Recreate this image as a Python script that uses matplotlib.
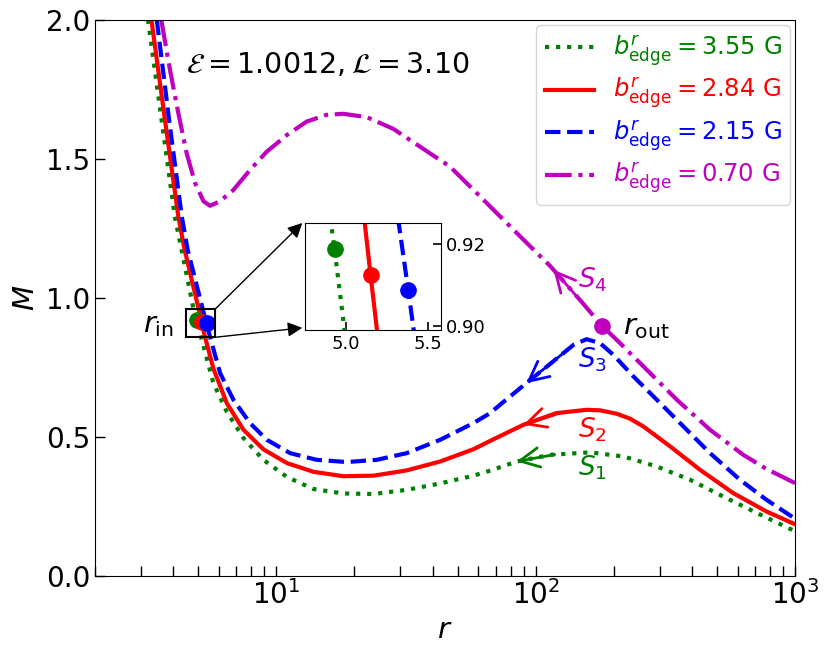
import numpy as np
import matplotlib
matplotlib.use('Agg')
import matplotlib.pyplot as plt
from matplotlib.patches import Rectangle

# curves: r and M
r1 = [3.20, 3.61, 4.06, 4.31, 4.80, 4.93, 5.05, 5.24, 5.72, 6.44, 7.47, 8.91, 11.0, 13.9, 18.1, 23.7,
      31.8, 42.8, 57.5, 66.7, 84.5, 114, 162, 218, 293, 394, 528, 711, 1000]
m1 = [2.0, 1.640, 1.292, 1.173, 0.957, 0.9186, 0.880, 0.825, 0.693, 0.590, 0.495, 0.417, 0.355, 0.312, 0.296, 0.294,
      0.309, 0.332, 0.360, 0.378, 0.411, 0.435, 0.444, 0.429, 0.393, 0.345, 0.285, 0.226, 0.160]

r2 = [3.30, 3.72, 4.19, 4.43, 5.03, 5.15, 5.28, 5.72, 6.44, 7.47, 8.91, 11.0, 13.9, 18.1, 23.7, 31.8,
      42.8, 57.5, 66.7, 89.6, 120, 157, 177, 205, 231, 260, 330, 430, 578, 776, 1000]
m2 = [2.0, 1.640, 1.292, 1.173, 0.955, 0.9123, 0.868, 0.745, 0.621, 0.525, 0.455, 0.405, 0.374, 0.358, 0.360, 0.379,
      0.411, 0.455, 0.485, 0.543, 0.585, 0.597, 0.595, 0.583, 0.565, 0.537, 0.465, 0.381, 0.297, 0.231, 0.185]

r3 = [3.46, 3.86, 4.32, 4.55, 5.25, 5.38, 5.52, 6.07, 6.83, 7.92, 9.19, 11.3, 14.3, 18.7, 24.4, 31.8,
      42.8, 57.5, 66.7, 72.8, 92, 120, 140, 157, 177, 199, 238, 293, 371, 470, 613, 776, 1000]
m3 = [2.0, 1.640, 1.292, 1.173, 0.945, 0.9086, 0.868, 0.729, 0.633, 0.549, 0.489, 0.441, 0.417, 0.409, 0.417, 0.441,
      0.489, 0.549, 0.585, 0.615, 0.693, 0.780, 0.831, 0.851, 0.837, 0.795, 0.717, 0.633, 0.537, 0.441, 0.345, 0.273, 0.205]

r4 = [3.60, 3.89, 4.19, 4.51, 4.86, 5.24, 5.55, 6.06, 6.83, 7.92, 9.19, 11.0, 13.1, 15.6, 18.1, 22.3,
      28.2, 32.7, 46.7, 62.8, 84.5, 114, 152, 180, 205, 268, 350, 470, 631, 776, 1000]
m4 = [2.0, 1.820, 1.664, 1.520, 1.413, 1.347, 1.331, 1.347, 1.388, 1.460, 1.526, 1.586, 1.634, 1.658, 1.662, 1.650,
      1.608, 1.568, 1.472, 1.353, 1.233, 1.113, 0.980, 0.899, 0.849, 0.741, 0.633, 0.525, 0.435, 0.384, 0.333]

labels = [r'$b^r_{\rm edge}=3.55$ G', r'$b^r_{\rm edge}=2.84$ G',
          r'$b^r_{\rm edge}=2.15$ G', r'$b^r_{\rm edge}=0.70$ G']
colors = ['g', 'r', 'b', 'm']
styles = [':', '-', '--', '-.']
snames = [r'$S_1$', r'$S_2$', r'$S_3$', r'$S_4$']

# inner sonic points and outer sonic point
rin_r = [4.93, 5.15, 5.38]
rin_m = [0.9186, 0.9123, 0.9086]
rout_r = 180
rout_m = 0.899

# where the direction arrows sit on each curve
arrow_r = [84.5, 89.6, 92, 117]

curves = [(r1, m1), (r2, m2), (r3, m3), (r4, m4)]

fig = plt.figure(figsize=(8.3, 6.61), dpi=100)
ax = fig.add_axes([0.1145, 0.129, 0.8435, 0.841])

for (rr, mm), c, ls, lab in zip(curves, colors, styles, labels):
    ax.plot(rr, mm, color=c, ls=ls, lw=3, label=lab)

for i in range(3):
    ax.plot(rin_r[i], rin_m[i], 'o', color=colors[i], ms=11, zorder=5)
ax.plot(rout_r, rout_m, 'o', color='m', ms=11, zorder=5)

# arrows along the curves (pointing to smaller r)
for (rr, mm), c, ra in zip(curves, colors, arrow_r):
    lr = np.log10(rr)
    tip = np.interp(np.log10(ra), lr, mm)
    tail = np.interp(np.log10(ra * 1.4), lr, mm)
    ax.annotate('', xy=(ra, tip), xytext=(ra * 1.4, tail),
                arrowprops=dict(arrowstyle='->,head_length=1.4,head_width=0.7',
                                color=c, lw=2, shrinkA=0, shrinkB=0))

ax.text(166, 1.065, snames[3], color='m', fontsize=19, ha='center', va='center')
ax.text(166, 0.777, snames[2], color='b', fontsize=19, ha='center', va='center')
ax.text(166, 0.525, snames[1], color='r', fontsize=19, ha='center', va='center')
ax.text(166, 0.388, snames[0], color='g', fontsize=19, ha='center', va='center')
ax.text(268, 0.896, r'$r_{\rm out}$', fontsize=21, ha='center', va='center')
ax.text(3.50, 0.903, r'$r_{\rm in}$', fontsize=21, ha='center', va='center')
ax.text(0.333, 0.919, r'$\mathcal{E}=1.0012, \mathcal{L}=3.10$', fontsize=20.5,
        ha='center', va='center', transform=ax.transAxes)

ax.set_xscale('log')
ax.set_xlim(2, 1000)
ax.set_ylim(0, 2)
ax.set_yticks([0, 0.5, 1.0, 1.5, 2.0])
ax.tick_params(which='both', direction='in', length=7, width=1, labelsize=20)
ax.set_xlabel(r'$r$', fontsize=21)
ax.set_ylabel(r'$M$', fontsize=21)

leg = ax.legend(loc='upper right', fontsize=17.5, borderaxespad=0.2, labelspacing=0.28,
                borderpad=0.35, handlelength=2.0, handletextpad=0.8)
for t, c in zip(leg.get_texts(), colors):
    t.set_color(c)

# zoom box
ax.add_patch(Rectangle((4.47, 0.858), 5.82 - 4.47, 0.960 - 0.858, fill=False,
                       ec='k', lw=1.5, zorder=6))

axins = fig.add_axes([0.3675, 0.5008, 0.1639, 0.1619])
for (rr, mm), c, ls in zip(curves[:3], colors, styles):
    axins.plot(rr, mm, color=c, ls=ls, lw=3)
for i in range(3):
    axins.plot(rin_r[i], rin_m[i], 'o', color=colors[i], ms=11)
axins.set_xlim(4.75, 5.58)
axins.set_ylim(0.899, 0.925)
axins.set_xticks([5.0, 5.5])
axins.set_yticks([0.90, 0.92])
axins.yaxis.tick_right()
axins.tick_params(which='both', direction='in', length=6, width=1.2, labelsize=13)

ax.annotate('', xy=(-0.02, 1.0), xycoords=axins.transAxes, xytext=(5.82, 0.960),
            textcoords='data', arrowprops=dict(arrowstyle='-|>', color='k', lw=1,
                                               mutation_scale=22, shrinkA=0, shrinkB=0))
ax.annotate('', xy=(-0.02, 0.02), xycoords=axins.transAxes, xytext=(5.82, 0.858),
            textcoords='data', arrowprops=dict(arrowstyle='-|>', color='k', lw=1,
                                               mutation_scale=22, shrinkA=0, shrinkB=0))

plt.savefig('out.png')
